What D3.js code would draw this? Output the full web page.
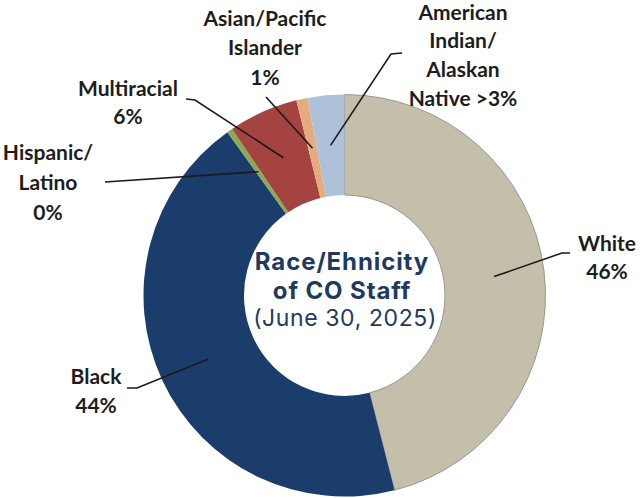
<!DOCTYPE html>
<html><head><meta charset="utf-8">
<script src="https://cdn.jsdelivr.net/npm/d3@7/dist/d3.min.js"></script>
<style>
html,body{margin:0;padding:0;background:#fff;}
svg{display:block;}
</style></head>
<body>
<svg id="chart" width="642" height="498"></svg>
<script>
const categories = ["White", "Black", "Hispanic/Latino", "Multiracial", "Asian/Pacific Islander", "American Indian/Alaskan Native"];
const values = [46.0, 44.1, 0.45, 5.6, 0.9, 2.95];
const valueLabels = ["46%", "44%", "0%", "6%", "1%", ">3%"];
const labelLines = [
  ["White", "46%"],
  ["Black", "44%"],
  ["Hispanic/", "Latino", "0%"],
  ["Multiracial", "6%"],
  ["Asian/Pacific", "Islander", "1%"],
  ["American", "Indian/", "Alaskan", "Native >3%"]
];
const colors = ["#c4bfab", "#1b3d6b", "#8aab52", "#a54341", "#e4ac7e", "#adc2d9"];
const titleLines = ["Race/Ehnicity", "of CO Staff"];
const subtitle = "(June 30, 2025)";

// layout (label text centre x, first baseline y, line gap; leader path points after slice centroid)
const layout = [
  {x: 607, y: 250.5, gap: 28, pts: [[562, 253], [570, 253]]},
  {x: 96,  y: 384,   gap: 29, pts: [[137, 388], [127, 388]]},
  {x: 48,  y: 159.5, gap: 30, pts: [[105, 182]]},
  {x: 128, y: 95.5,  gap: 28.5, pts: [[195, 100], [186, 99]]},
  {x: 265, y: 25.5,  gap: 29.5, pts: [[266, 97]]},
  {x: 463, y: 19.5,  gap: 28.7, pts: [[391, 54], [402, 53]]}
];

const svg = d3.select("#chart");
const cx = 344.5, cy = 295.5, R = 201, r0 = 100.5;
const g = svg.append("g").attr("transform", `translate(${cx},${cy})`);

const data = categories.map((c, i) => ({cat: c, value: values[i], i}));
const pie = d3.pie().value(d => d.value).sort(null).startAngle(0).endAngle(2 * Math.PI);
const arc = d3.arc().innerRadius(r0).outerRadius(R);
const arcs = pie(data);

g.selectAll("path.slice").data(arcs).join("path")
  .attr("class", "slice")
  .attr("d", arc)
  .attr("fill", d => colors[d.data.i])
  .attr("stroke", d => d.data.i === 0 ? "#9a978c" : "none")
  .attr("stroke-width", 1);

// leader lines
const line = d3.line();
arcs.forEach(a => {
  const c = arc.centroid(a);
  const pts = [[c[0] + cx, c[1] + cy]].concat(layout[a.data.i].pts);
  svg.append("path").attr("d", line(pts))
    .attr("fill", "none").attr("stroke", "#1a1a1a").attr("stroke-width", 1.6);
});

// labels
arcs.forEach(a => {
  const L = layout[a.data.i];
  const t = svg.append("text")
    .attr("x", L.x).attr("y", L.y)
    .attr("text-anchor", "middle")
    .attr("font-family", "Lato, 'Open Sans', sans-serif")
    .attr("font-weight", "bold")
    .attr("font-size", 21)
    .attr("fill", "#1d1d1d");
  labelLines[a.data.i].forEach((s, k) => {
    t.append("tspan").attr("x", L.x).attr("dy", k === 0 ? 0 : L.gap).text(s);
  });
});

// centre title
const tc = svg.append("text").attr("text-anchor", "middle")
  .attr("font-family", "Inter, 'Open Sans', sans-serif").attr("fill", "#1f3a5f");
tc.append("tspan").attr("x", 342).attr("y", 270).attr("font-weight", "bold").attr("font-size", 24).attr("letter-spacing", 0.9).text(titleLines[0]);
tc.append("tspan").attr("x", 342).attr("y", 299).attr("font-weight", "bold").attr("font-size", 24).attr("letter-spacing", 0.9).text(titleLines[1]);
tc.append("tspan").attr("x", 345).attr("y", 326).attr("font-weight", "normal").attr("font-size", 23).attr("letter-spacing", 0.6).text(subtitle);
</script>
</body></html>
